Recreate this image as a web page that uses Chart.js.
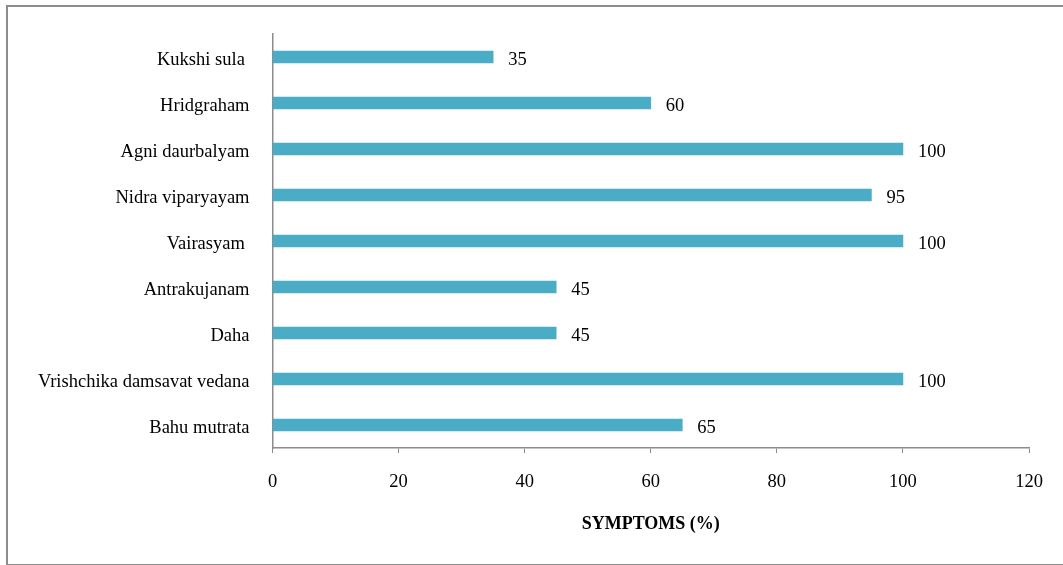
<!DOCTYPE html>
<html>
<head>
<meta charset="utf-8">
<script src="https://cdn.jsdelivr.net/npm/chart.js@4"></script>
<style>
    body { margin: 0; background: #fff; overflow: hidden; }
    #wrap { position: relative; width: 1063px; height: 565px; }
    #frame { position: absolute; left: 6px; top: 5px; width: 1100px; height: 557px; border: 2px solid #8c8c8c; }
    canvas { position: absolute; left: 0; top: 0; }
</style>
</head>
<body>
<div id="wrap">
    <div id="frame"></div>
    <canvas id="symptomChart" width="1063" height="565"></canvas>
</div>
<script>
// Symptom names, top to bottom as drawn
const symptoms = ['Kukshi sula ', 'Hridgraham', 'Agni daurbalyam', 'Nidra viparyayam', 'Vairasyam ',
    'Antrakujanam', 'Daha', 'Vrishchika damsavat vedana', 'Bahu mutrata'];
// Percentage of patients with each symptom
const percents = [35, 60, 100, 95, 100, 45, 45, 100, 65];
// X axis ticks
const xTicks = [0, 20, 40, 60, 80, 100, 120];

const serif = "'Liberation Serif', 'Times New Roman', serif";

// Draws the value next to the end of each bar
const valueLabels = {
    id: 'valueLabels',
    afterDatasetsDraw(chart) {
        const ctx = chart.ctx;
        const meta = chart.getDatasetMeta(0);
        ctx.save();
        ctx.font = '18.5px ' + serif;
        ctx.fillStyle = '#000';
        ctx.textAlign = 'left';
        ctx.textBaseline = 'middle';
        meta.data.forEach((bar, i) => {
            ctx.fillText(percents[i], bar.x + 15, bar.y + 3);
        });
        ctx.restore();
    }
};

new Chart(document.getElementById('symptomChart'), {
    type: 'bar',
    data: {
        labels: symptoms,
        datasets: [{
            data: percents,
            backgroundColor: '#4BACC6',
            barThickness: 12
        }]
    },
    options: {
        indexAxis: 'y',
        responsive: false,
        animation: false,
        layout: { padding: { left: 0, top: 34, right: 34, bottom: 0 } },
        plugins: { legend: { display: false }, tooltip: { enabled: false } },
        scales: {
            x: {
                min: 0,
                max: 120,
                afterBuildTicks: scale => { scale.ticks = xTicks.map(v => ({ value: v })); },
                afterFit: scale => { scale.height = 117; },
                grid: { drawOnChartArea: false, drawTicks: true, tickLength: 5, color: '#8c8c8c' },
                border: { color: '#8c8c8c', width: 1.5 },
                ticks: { color: '#000', font: { family: serif, size: 18.5 }, padding: 18, maxRotation: 0 },
                title: {
                    display: true,
                    text: 'SYMPTOMS (%)',
                    color: '#000',
                    font: { family: serif, size: 18, weight: 'bold' },
                    padding: { top: 4, bottom: 30 }
                }
            },
            y: {
                afterFit: scale => { scale.width = 272.5; },
                grid: { display: false },
                border: { color: '#8c8c8c', width: 1.5 },
                ticks: { color: '#000', font: { family: serif, size: 18.5 }, padding: 15, labelOffset: 3 }
            }
        }
    },
    plugins: [valueLabels]
});
</script>
</body>
</html>
